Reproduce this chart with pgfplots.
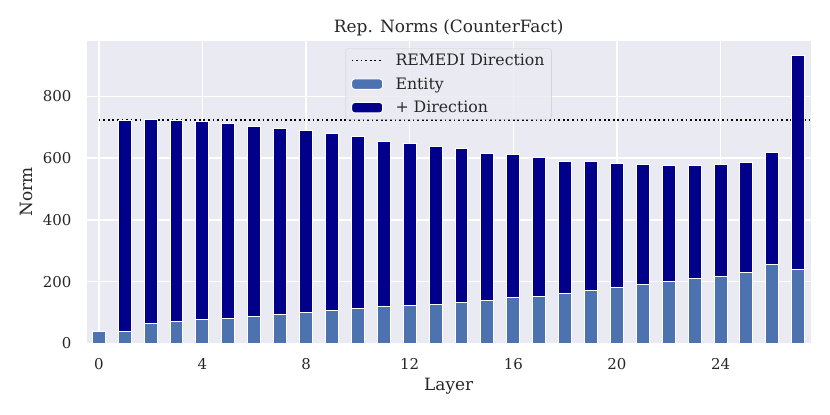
\documentclass[border=0pt]{standalone}
\usepackage{fontspec}
\setmainfont{DejaVu Serif}
\usepackage{pgfplots}
\pgfplotsset{compat=1.18}
\definecolor{bgc}{HTML}{EAEAF2}
\definecolor{entc}{HTML}{4C72B0}
\definecolor{dirc}{HTML}{00008B}
\definecolor{txt}{HTML}{262626}
\begin{document}
\begin{tikzpicture}
\path[use as bounding box] (-86.7bp,-71.7bp) rectangle (743.3bp,343.3bp);
\begin{axis}[
  at={(0,0)}, anchor=south west,
  width=724bp, height=302.3bp, scale only axis,
  xmin=-0.467, xmax=27.48, ymin=0, ymax=980,
  axis background/.style={fill=bgc},
  axis line style={draw=none},
  major tick length=0pt,
  grid=major, grid style={white, line width=1.5bp},
  xtick={0,4,...,24}, ytick={0,200,...,800},
  /pgf/number format/assume math mode=true,
  ticklabel style={font=\fontsize{15}{18}\selectfont, text=txt, inner sep=0pt},
  xticklabel shift=15bp, yticklabel shift=15bp,
  title={Rep. Norms (CounterFact)},
  title style={at={(axis description cs:0.5,1)}, anchor=base, yshift=2.7bp, inner sep=0pt, font=\fontsize{17}{20}\selectfont, text=txt},
  xlabel={Layer},
  xlabel style={at={(axis description cs:0.5,0)}, anchor=north, yshift=-35bp, inner sep=0pt, font=\fontsize{17}{20}\selectfont, text=txt},
  ylabel={Norm},
  ylabel style={at={(axis description cs:0,0.5)}, anchor=north, yshift=66.7bp, inner sep=0pt, font=\fontsize{17}{20}\selectfont, text=txt},
  legend style={at={(axis description cs:0.5,1)}, anchor=north, yshift=-7.3bp,
    fill=bgc, fill opacity=0.8, text opacity=1, draw=black!20, draw opacity=1, rounded corners=3bp,
    font=\fontsize{15.8}{19}\selectfont, text=txt,
    inner xsep=5bp, inner ysep=3.5bp, row sep=6.5bp, nodes={inner sep=2bp}},
  legend cell align=left,
  /tikz/every odd column/.append style={column sep=10bp},
]
\addplot[black, line width=1.7bp, dash pattern=on 1.7bp off 2.85bp, forget plot] coordinates {(0,723) (27.48,723)};
\addplot[ybar, bar width=0.5, bar shift=0pt, fill=dirc, draw=white, line width=1bp, forget plot] coordinates {
(1,722) (2,726) (3,722) (4,720) (5,712) (6,704) (7,696) (8,690) (9,681) (10,670)
(11,653) (12,648) (13,639) (14,631) (15,616) (16,612) (17,603) (18,588) (19,588)
(20,584) (21,579) (22,577) (23,575) (24,580) (25,587) (26,618) (27,933)};
\addplot[ybar, bar width=0.5, bar shift=0pt, fill=entc, draw=white, line width=1bp, forget plot] coordinates {
(0,38) (1,37) (2,65) (3,71) (4,76) (5,81) (6,86) (7,93) (8,100) (9,106) (10,112)
(11,120) (12,123) (13,127) (14,133) (15,138) (16,147) (17,153) (18,160) (19,170)
(20,182) (21,192) (22,200) (23,209) (24,216) (25,229) (26,254) (27,240)};
\addlegendimage{legend image code/.code={\draw[black, draw opacity=1, line width=1.7bp, dash pattern=on 1.7bp off 2.85bp] (0bp,0bp) -- (31bp,0bp);}}
\addlegendentry{REMEDI Direction}
\addlegendimage{legend image code/.code={\draw[fill=entc, fill opacity=1, draw=white, draw opacity=1, line width=1bp] (0bp,-5.2bp) rectangle (31bp,5.2bp);}}
\addlegendentry{Entity}
\addlegendimage{legend image code/.code={\draw[fill=dirc, fill opacity=1, draw=white, draw opacity=1, line width=1bp] (0bp,-5.2bp) rectangle (31bp,5.2bp);}}
\addlegendentry{+ Direction}
\end{axis}
\end{tikzpicture}
\end{document}
